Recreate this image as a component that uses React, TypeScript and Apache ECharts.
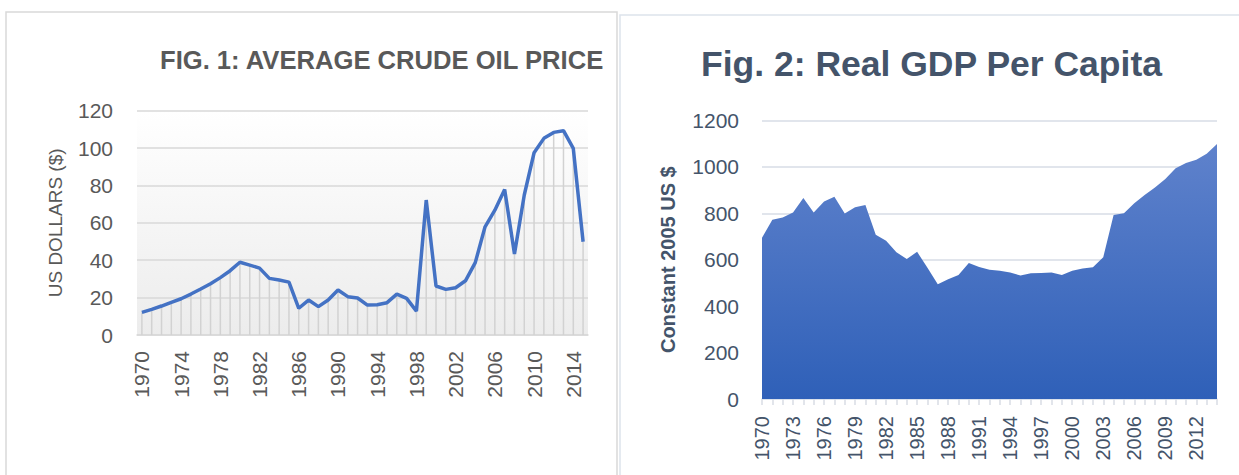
import React, { useEffect, useRef } from "react";
import * as echarts from "echarts";

const oilYears = Array.from({ length: 46 }, (_, i) => String(1970 + i));
const oilPrice = [
  12.1, 13.7, 15.5, 17.5, 19.4, 21.9, 24.6, 27.4, 30.7, 34.4,
  38.9, 37.4, 35.8, 30.3, 29.4, 28.3, 14.3, 18.7, 15.2, 18.7,
  24.1, 20.5, 19.8, 16.0, 16.2, 17.3, 21.9, 19.6, 12.8, 72.2,
  26.2, 24.4, 25.3, 29.0, 38.7, 57.9, 66.8, 77.9, 43.3, 74.9,
  97.5, 105.2, 108.4, 109.3, 99.8, 49.9,
];

const gdpYears = Array.from({ length: 45 }, (_, i) => String(1970 + i));
const gdpValues = [
  695, 772, 782, 803, 866, 803, 851, 871, 799, 826,
  836, 707, 682, 632, 603, 634, 565, 494, 516, 534,
  586, 569, 557, 552, 545, 532, 542, 543, 545, 534,
  552, 562, 568, 611, 793, 800, 843, 879, 911, 948,
  994, 1016, 1030, 1056, 1098,
];

const oilTitle = "FIG. 1: AVERAGE CRUDE OIL PRICE";
const gdpTitle = "Fig. 2: Real GDP Per Capita";
const oilAxisName = "US DOLLARS ($)";
const gdpAxisName = "Constant 2005 US $";

const FONT = "'Liberation Sans', Arial, sans-serif";

export default function App() {
  const ref = useRef<HTMLDivElement>(null);
  useEffect(() => {
    if (!ref.current) return;
    const chart = echarts.init(ref.current, null, { renderer: "svg" });
    chart.setOption({
      animation: false,
      backgroundColor: "#ffffff",
      textStyle: { fontFamily: FONT },
      title: [
        {
          text: oilTitle,
          left: 160,
          top: 47,
          padding: 0,
          textStyle: { fontSize: 25.6, fontWeight: "bold", color: "#595959", fontFamily: FONT },
        },
        {
          text: gdpTitle,
          left: 701,
          top: 46,
          padding: 0,
          textStyle: { fontSize: 35.5, fontWeight: "bold", color: "#44546a", fontFamily: FONT },
        },
      ],
      graphic: [
        {
          type: "rect",
          shape: { x: 6, y: 12, width: 611, height: 480 },
          style: { fill: "none", stroke: "#d9d9d9", lineWidth: 1.5 },
          z: -10,
        },
        {
          type: "rect",
          shape: { x: 620, y: 15, width: 640, height: 480 },
          style: { fill: "none", stroke: "#dde3ec", lineWidth: 1.5 },
          z: -10,
        },
      ],
      grid: [
        {
          left: 137,
          top: 110.7,
          width: 451,
          height: 224.3,
          show: true,
          borderWidth: 0,
          backgroundColor: new echarts.graphic.LinearGradient(0, 0, 0, 1, [
            { offset: 0, color: "#ffffff" },
            { offset: 1, color: "#ececec" },
          ]),
        },
        { left: 762, top: 120.4, width: 455, height: 278.6 },
      ],
      xAxis: [
        {
          type: "category",
          gridIndex: 0,
          data: oilYears,
          boundaryGap: true,
          axisLine: { lineStyle: { color: "#d9d9d9", width: 1.5 } },
          axisTick: { show: false },
          axisLabel: { interval: 3, rotate: 90, fontSize: 21, color: "#595959", margin: 16 },
        },
        {
          type: "category",
          gridIndex: 1,
          data: gdpYears,
          boundaryGap: false,
          axisLine: { lineStyle: { color: "#d9e1ec", width: 1.5 } },
          axisTick: { show: true, interval: 0, length: 6, lineStyle: { color: "#d9dde4", width: 1.5 } },
          axisLabel: { interval: 2, rotate: 90, fontSize: 20, color: "#44546a", margin: 17 },
        },
      ],
      yAxis: [
        {
          type: "value",
          gridIndex: 0,
          min: 0,
          max: 120,
          interval: 20,
          name: oilAxisName,
          nameLocation: "middle",
          nameRotate: 90,
          nameGap: 72,
          nameTextStyle: { fontSize: 19, color: "#595959" },
          axisLine: { show: false },
          axisTick: { show: false },
          axisLabel: { fontSize: 21, color: "#595959", margin: 24 },
          splitLine: { lineStyle: { color: "#d9d9d9", width: 1.5 } },
        },
        {
          type: "value",
          gridIndex: 1,
          min: 0,
          max: 1200,
          interval: 200,
          name: gdpAxisName,
          nameLocation: "middle",
          nameRotate: 90,
          nameGap: 84,
          nameTextStyle: { fontSize: 20, fontWeight: "bold", color: "#44546a" },
          axisLine: { show: false },
          axisTick: { show: false },
          axisLabel: {
            fontSize: 21,
            color: "#44546a",
            margin: 23,
            formatter: (v: number) => String(v),
          },
          splitLine: { lineStyle: { color: "#e1e5ec", width: 2 } },
        },
      ],
      series: [
        {
          type: "bar",
          xAxisIndex: 0,
          yAxisIndex: 0,
          data: oilPrice,
          barWidth: 1.5,
          itemStyle: { color: "#d2d2d2" },
          silent: true,
          z: 1,
        },
        {
          type: "line",
          xAxisIndex: 0,
          yAxisIndex: 0,
          data: oilPrice,
          symbol: "none",
          lineStyle: { color: "#4472c4", width: 3.5 },
          z: 3,
        },
        {
          type: "line",
          xAxisIndex: 1,
          yAxisIndex: 1,
          data: gdpValues,
          symbol: "none",
          lineStyle: { width: 0 },
          areaStyle: {
            opacity: 1,
            color: new echarts.graphic.LinearGradient(0, 0, 0, 1, [
              { offset: 0, color: "#5f82cc" },
              { offset: 1, color: "#2f60b8" },
            ]),
          },
          z: 2,
        },
      ],
    });
    return () => chart.dispose();
  }, []);
  return (
    <div
      ref={ref}
      style={{ position: "fixed", left: 0, top: 0, width: 1239, height: 475 }}
    />
  );
}
